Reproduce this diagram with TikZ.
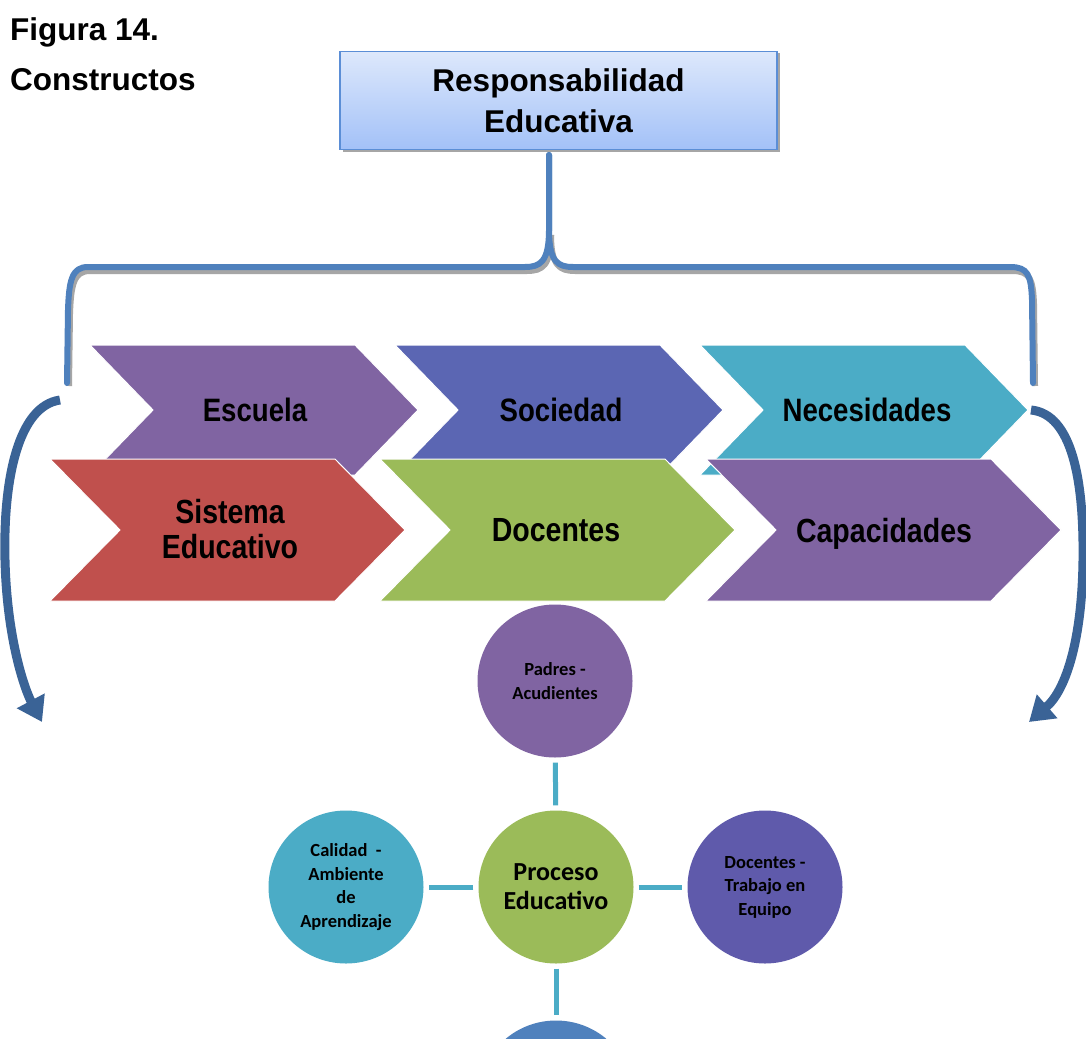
\documentclass[tikz,border=0pt]{standalone}
\usepackage{fontspec}
\setmainfont{Liberation Sans}
\newfontfamily\calib{Carlito}
\usetikzlibrary{shapes.geometric,arrows.meta}
\definecolor{boxborder}{HTML}{5B8ED6}
\definecolor{boxtop}{HTML}{DDE8FB}
\definecolor{boxbot}{HTML}{A3C1F8}
\definecolor{bracecol}{HTML}{4F81BD}
\definecolor{shadowcol}{HTML}{A6A6A6}
\definecolor{cpurple}{HTML}{8064A2}
\definecolor{cblue}{HTML}{5B66B3}
\definecolor{ccyan}{HTML}{4BACC6}
\definecolor{cred}{HTML}{C0504D}
\definecolor{cgreen}{HTML}{9BBB59}
\definecolor{cindigo}{HTML}{5F5AAB}
\definecolor{cmid}{HTML}{4F81BD}
\definecolor{arrowcol}{HTML}{3A6396}
\tikzset{
  chevtext/.style={font=\bfseries\fontsize{30}{33}\selectfont, align=center, xscale=0.92, yscale=1.08, transform shape},
  circ/.style={ellipse, minimum width=155pt, minimum height=153pt, inner sep=0pt, align=center, font=\calib\bfseries\fontsize{18.5}{23.5}\selectfont},
  link/.style={draw=ccyan, line width=5pt, shorten <=5pt, shorten >=5pt},
  bracestyle/.style={draw=bracecol, line width=6pt, line cap=round},
  braceshadow/.style={draw=shadowcol, line width=6pt},
  curvarrow/.style={draw=arrowcol, line width=9pt, -{Triangle[width=30pt,length=24pt]}},
  chevfill/.style={draw=white, line width=1pt}
}
\newcommand{\chevron}[6]{% x, ymid, w, h, d, color
  \filldraw[chevfill, fill=#6] (#1,#2-#4) -- (#1+#3,#2-#4) -- (#1+#3+#5,#2) -- (#1+#3,#2+#4) -- (#1,#2+#4) -- (#1+#5,#2) -- cycle;}
\begin{document}
\begin{tikzpicture}[x=1pt,y=-1pt]
\useasboundingbox (0,0) rectangle (1086,1038);
\clip (0,0) rectangle (1086,1038);
\fill[white] (0,0) rectangle (1086,1038);

% title
\node[anchor=base west, inner sep=0pt, font=\bfseries\fontsize{31.5}{36}\selectfont] (fig) at (10,40.5) {Figura 14.};
\node[anchor=base west, inner sep=0pt, font=\bfseries\fontsize{31.5}{36}\selectfont] (cons) at (10,91) {Constructos};

% top box
\fill[shadowcol] (343,53) rectangle (780,152);
\node[draw=boxborder, line width=1.5pt, top color=boxtop, bottom color=boxbot, minimum width=437pt, minimum height=98pt, inner sep=0pt, align=center, font=\bfseries\fontsize{31.5}{41}\selectfont] (resp) at (558.5,100.5) {Responsabilidad\\Educativa};

% brace
\coordinate (stem) at (549,155);
\coordinate (bl) at (67,383);
\coordinate (br) at (1033,383);
\draw[braceshadow] (551,235) .. controls (551,266) and (542,271) .. (527,271) -- (90,271) .. controls (74,271) and (71,284) .. (70,314) -- (69,386);
\draw[braceshadow] (551,235) .. controls (551,266) and (560,271) .. (575,271) -- (1012,271) .. controls (1030,271) and (1033,279) .. (1034,304) -- (1035,386);
\draw[bracestyle] (stem) -- (549,230) .. controls (549,262) and (540,267) .. (525,267) -- (88,267) .. controls (72,267) and (69,280) .. (68,310) -- (bl);
\draw[bracestyle] (stem) -- (549,230) .. controls (549,262) and (558,267) .. (573,267) -- (1010,267) .. controls (1028,267) and (1031,275) .. (1032,300) -- (br);

% top row chevrons
\chevron{90}{410}{265}{65}{63}{cpurple}
\chevron{395}{410}{265}{65}{63}{cblue}
\chevron{700}{410}{265}{65}{63}{ccyan}
% bottom row chevrons
\chevron{50}{530}{285}{71}{70}{cred}
\chevron{380}{530}{285}{71}{70}{cgreen}
\chevron{706}{530}{285}{71}{70}{cpurple}

\node[chevtext] (escuela) at (255,410) {Escuela};
\node[chevtext] (sociedad) at (561,410) {Sociedad};
\node[chevtext] (necesidades) at (867,410) {Necesidades};
\node[chevtext, font=\bfseries\fontsize{31}{33}\selectfont] (sistema) at (230,529) {Sistema\\Educativo};
\node[chevtext, font=\bfseries\fontsize{31}{33}\selectfont] (docentes) at (556,530) {Docentes};
\node[chevtext, font=\bfseries\fontsize{31}{33}\selectfont] (capacidades) at (884,533.5) {Capacidades};

% curved arrows
\coordinate (la0) at (60,400);
\coordinate (la1) at (42,722);
\coordinate (ra0) at (1031,410);
\coordinate (ra1) at (1029,722);
\draw[curvarrow] (la0) .. controls (18,406) and (3,480) .. (5,560) .. controls (7,640) and (25,690) .. (la1);
\draw[curvarrow] (ra0) .. controls (1072,414) and (1084,480) .. (1083,560) .. controls (1082,640) and (1066,690) .. (ra1);

% circles
\node[circ, fill=cpurple] (padres) at (555,681) {Padres -\\Acudientes};
\node[circ, fill=cgreen, font=\calib\bfseries\fontsize{26}{29}\selectfont] (proceso) at (556,887) {Proceso\\Educativo};
\node[circ, fill=ccyan] (calidad) at (346,887) {Calidad \ -\\Ambiente\\de\\Aprendizaje};
\node[circ, fill=cindigo] (equipo) at (765,887) {Docentes -\\Trabajo en\\Equipo};
\node[circ, fill=cmid] (bottom) at (556,1097) {};

\draw[link] (padres) -- (proceso);
\draw[link] (proceso) -- (calidad);
\draw[link] (proceso) -- (equipo);
\draw[link] (proceso) -- (bottom);
\end{tikzpicture}
\end{document}
